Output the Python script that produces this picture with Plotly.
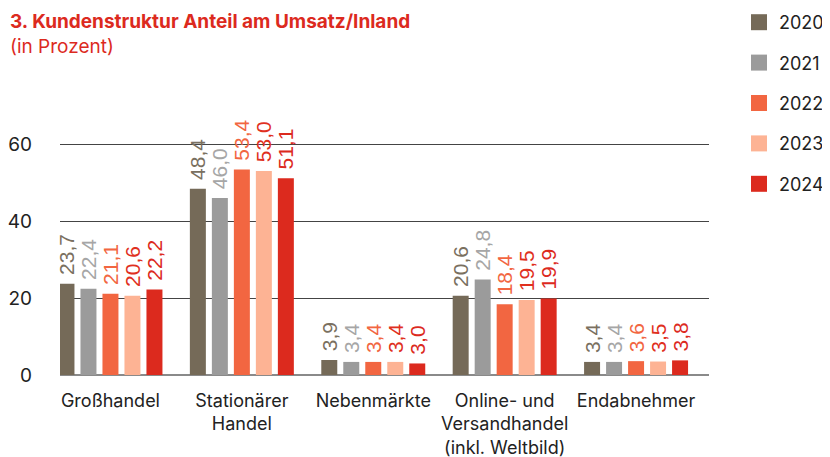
import plotly.graph_objects as go

categories = ["Großhandel", "Stationärer<br>Handel", "Nebenmärkte",
              "Online- und<br>Versandhandel<br>(inkl. Weltbild)", "Endabnehmer"]
years = ["2020", "2021", "2022", "2023", "2024"]
values_2020 = [23.7, 48.4, 3.9, 20.6, 3.4]
values_2021 = [22.4, 46.0, 3.4, 24.8, 3.4]
values_2022 = [21.1, 53.4, 3.4, 18.4, 3.6]
values_2023 = [20.6, 53.0, 3.4, 19.5, 3.5]
values_2024 = [22.2, 51.1, 3.0, 19.9, 3.8]
y_ticks = [0, 20, 40, 60]

series = [values_2020, values_2021, values_2022, values_2023, values_2024]
bar_colors = ["#756a58", "#9b9b9b", "#f26641", "#fdb394", "#dc2a1e"]
label_colors = ["#7a705f", "#a6a6a6", "#f26641", "#e0301e", "#dc2a1e"]

fig = go.Figure()
for i, (yr, vals) in enumerate(zip(years, series)):
    fig.add_trace(go.Bar(
        x=categories, y=vals, name=yr, legendgroup=yr, showlegend=False,
        marker=dict(color=bar_colors[i], line=dict(width=0)),
        text=["\u00a0" + f"{v:.1f}".replace(".", ",") for v in vals],
        textposition="outside", textangle=-90, constraintext="none",
        textfont=dict(family="Liberation Sans", size=21, color=label_colors[i]),
        cliponaxis=False, hoverinfo="skip",
    ))
    # legend entry with a 16px square key
    fig.add_trace(go.Scatter(
        x=[None], y=[None], mode="markers", name=yr, legendgroup=yr,
        marker=dict(symbol="square", size=16, color=bar_colors[i]),
        hoverinfo="skip",
    ))

fig.update_layout(
    width=822, height=449,
    margin=dict(l=52, r=121, t=63, b=82, autoexpand=False),
    paper_bgcolor="white", plot_bgcolor="white",
    barmode="group", bargap=0.163, bargroupgap=0.273,
    font=dict(family="Inter", size=18, color="#222222"),
    showlegend=True,
    legend=dict(xref="paper", yref="paper", x=(731 - 52) / 649, y=(367 + 4) / 304,
                xanchor="left", yanchor="top", tracegroupgap=14,
                itemsizing="trace",
                font=dict(family="Inter", size=18, color="#222222"),
                bgcolor="rgba(0,0,0,0)"),
    xaxis=dict(range=[-0.384, 4.555], showgrid=False, zeroline=False,
               showline=False, ticks="", ticklabelstandoff=13, tickangle=0,
               tickfont=dict(size=18, color="#222222")),
    yaxis=dict(range=[0, 79], tickvals=y_ticks, showgrid=True,
               gridcolor="#444444", gridwidth=1, zeroline=True,
               zerolinecolor="#8a8a8a", zerolinewidth=2, showline=False,
               ticks="", ticklabelstandoff=27,
               tickfont=dict(size=19, color="#222222")),
    annotations=[
        dict(text="<b>3. Kundenstruktur Anteil am Umsatz/Inland</b>",
             xref="paper", yref="paper", x=-52/649, y=(375 - 21) / 304,
             xanchor="left", yanchor="middle", showarrow=False,
             font=dict(family="Inter", size=19, color="#dc2a1e")),
        dict(text="(in Prozent)",
             xref="paper", yref="paper", x=-52/649, y=(375 - 46) / 304,
             xanchor="left", yanchor="middle", showarrow=False,
             font=dict(family="Inter", size=19, color="#dc2a1e")),
    ],
)

fig.write_html("out.html")
